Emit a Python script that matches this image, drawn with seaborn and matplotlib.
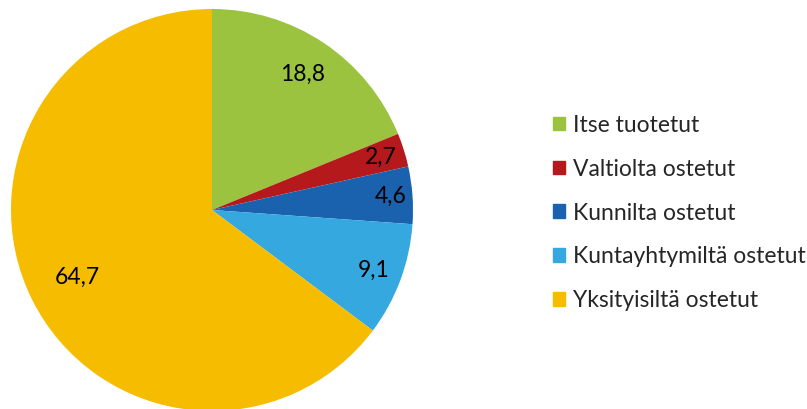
import numpy as np
import matplotlib.pyplot as plt
import matplotlib.patches as mpatches
import seaborn as sns

# data
categories = ['Itse tuotetut', 'Valtiolta ostetut', 'Kunnilta ostetut',
              'Kuntayhtymiltä ostetut', 'Yksityisiltä ostetut']
values = [18.8, 2.7, 4.6, 9.1, 64.7]
value_labels = ['18,8', '2,7', '4,6', '9,1', '64,7']
colors = ['#9BC33F', '#B5191B', '#1B62AE', '#34A8DF', '#F6BC00']
label_radius = [0.81, 0.88, 0.89, 0.86, 0.75]

sns.set_theme(style='white')
plt.rcParams['font.family'] = ['Lato', 'DejaVu Sans']

fig = plt.figure(figsize=(8.07, 4.09), dpi=100)
ax = fig.add_axes([11 / 807, -2 / 409, 402 / 807, 402 / 409])
wedges, _ = ax.pie(values, colors=colors, startangle=90, counterclock=False,
                   wedgeprops=dict(linewidth=0))
ax.set_aspect('equal')
ax.set_xlim(-1, 1)
ax.set_ylim(-1, 1)

# value labels at slice midpoints
for w, lab, r in zip(wedges, value_labels, label_radius):
    ang = np.deg2rad((w.theta1 + w.theta2) / 2)
    ax.text(r * np.cos(ang), r * np.sin(ang), lab, ha='center', va='center',
            fontsize=16.5, color='black')

handles = [mpatches.Patch(color=c, label=n) for c, n in zip(colors, categories)]
fig.legend(handles=handles, loc='center left', bbox_to_anchor=(532 / 807, 196 / 409),
           frameon=False, fontsize=16.5, handlelength=0.55, handleheight=0.55,
           handletextpad=0.35, labelspacing=1.0)

fig.savefig('out.png', dpi=100)
